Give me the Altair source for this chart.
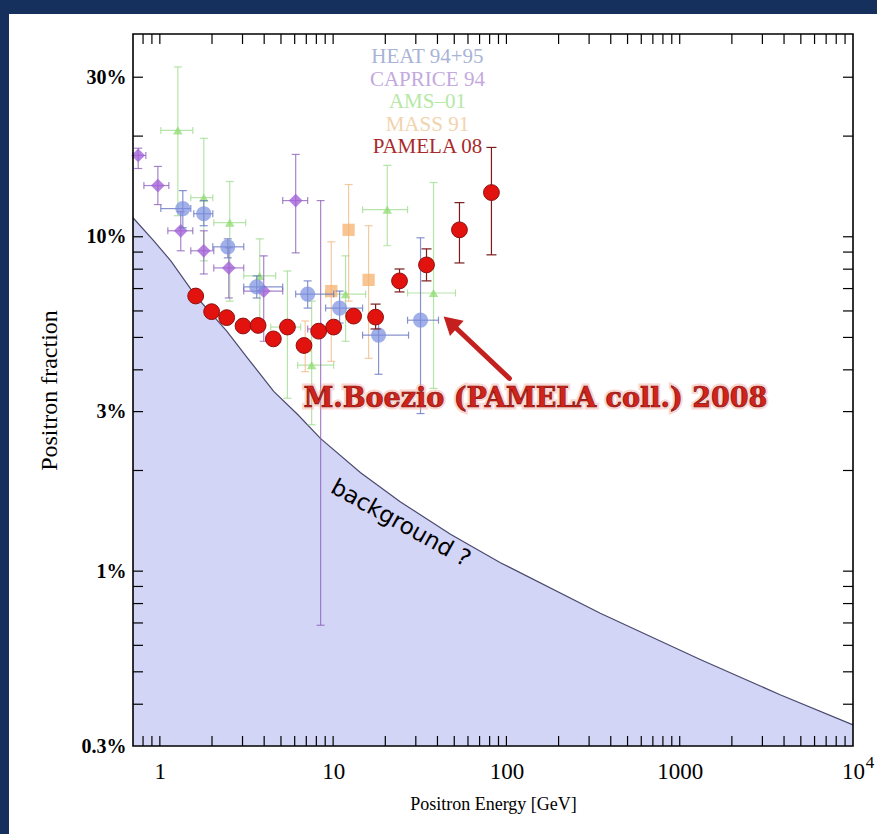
import altair as alt
import pandas as pd

# ---------------- data ----------------
# secondary-production "background" curve (energy GeV, positron fraction %)
bg_energy = [0.7, 0.923, 1.157, 1.612, 1.968, 2.433, 3.216, 4.54, 6.243, 8.472,
             14.41, 24.49, 47.56, 92.35, 348, 1313, 3796, 10000]
bg_frac = [11.40, 9.72, 8.47, 6.65, 5.91, 5.22, 4.33, 3.45, 2.94, 2.49,
           1.97, 1.61, 1.29, 1.06, 0.748, 0.544, 0.427, 0.347]

# PAMELA 08
pam_x = [1.61, 1.99, 2.43, 3.02, 3.69, 4.52, 5.45, 6.79, 8.25, 10.07, 13.13, 17.58, 24.16, 34.58, 53.58, 81.95]
pam_y = [6.65, 5.97, 5.73, 5.41, 5.43, 4.95, 5.37, 4.73, 5.22, 5.37, 5.79, 5.75, 7.38, 8.24, 10.49, 13.56]
pam_lo = [6.45, 5.80, 5.57, 5.27, 5.29, 4.82, 5.22, 4.60, 5.07, 5.20, 5.60, 5.30, 6.84, 7.38, 8.35, 8.83]
pam_hi = [6.85, 6.15, 5.90, 5.56, 5.58, 5.09, 5.52, 4.87, 5.38, 5.55, 6.00, 6.29, 8.01, 9.20, 12.65, 18.5]

# HEAT 94+95
heat_x = [1.357, 1.793, 2.466, 3.623, 7.129, 10.90, 18.29, 31.94]
heat_y = [12.14, 11.72, 9.33, 7.08, 6.74, 6.12, 5.08, 5.63]
heat_xlo = [1.013, 1.570, 2.021, 3.049, 6.080, 9.053, 14.79, 26.88]
heat_xhi = [1.509, 2.021, 3.049, 5.117, 10.07, 14.79, 27.24, 40.55]
heat_lo = [10.64, 10.79, 8.65, 6.56, 6.12, 5.52, 3.88, 2.96]
heat_hi = [13.74, 12.83, 9.86, 7.64, 7.38, 6.88, 5.60, 9.93]

# CAPRICE 94
cap_x = [0.75, 0.974, 1.32, 1.793, 2.499, 3.976, 6.080, 8.47]
cap_y = [17.51, 14.23, 10.42, 9.08, 8.07, 6.88, 12.83, 5.30]
cap_xlo = [0.70, 0.809, 1.112, 1.509, 2.048, 3.049, 5.117, 7.129]
cap_xhi = [0.83, 1.127, 1.549, 2.048, 3.049, 5.117, 7.129, 10.07]
cap_lo = [16.0, 12.48, 9.08, 7.74, 6.56, 4.87, 8.95, 0.689]
cap_hi = [18.4, 16.23, 11.89, 10.42, 9.27, 8.77, 17.63, 12.83]

# AMS-01
ams_x = [1.27, 1.793, 2.532, 3.771, 5.445, 7.516, 11.80, 20.53, 37.96]
ams_y = [20.8, 13.09, 11.02, 7.64, 5.37, 4.13, 6.74, 12.05, 6.79]
ams_xlo = [1.013, 1.509, 2.048, 3.049, 4.363, 6.243, 9.053, 14.79, 26.88]
ams_xhi = [1.549, 2.021, 3.131, 4.663, 6.496, 10.07, 15.39, 26.88, 50.82]
ams_lo = [11.56, 8.47, 6.42, 5.22, 3.29, 2.74, 4.87, 9.40, 3.52]
ams_hi = [32.2, 19.7, 14.63, 9.86, 7.90, 6.42, 8.77, 16.34, 14.53]

# MASS 91
mass_x = [6.9, 9.76, 12.28, 16.02]
mass_y = [4.71, 6.88, 10.49, 7.43]
mass_lo = [3.95, 4.24, 6.42, 4.33]
mass_hi = [5.60, 9.66, 14.33, 10.79]

# tick positions and labels
x_ticks = [0.8, 0.9, 1, 2, 3, 4, 5, 6, 7, 8, 9, 10, 20, 30, 40, 50, 60, 70, 80, 90,
           100, 200, 300, 400, 500, 600, 700, 800, 900, 1000, 2000, 3000, 4000, 5000,
           6000, 7000, 8000, 9000]
y_ticks = [0.4, 0.5, 0.6, 0.7, 0.8, 0.9, 1, 2, 3, 4, 5, 6, 7, 8, 9, 10, 20, 30]
x_labels = [1, 10, 100, 1000, 10000]
y_labels = [0.3, 1, 3, 10, 30]

legend_names = ["HEAT 94+95", "CAPRICE 94", "AMS\u201301", "MASS 91", "PAMELA 08"]
legend_colors = ["#a9b3d6", "#c3a9de", "#b6e8a6", "#f1d3ae", "#a92a2a"]
legend_x = [35.0, 35.0, 35.0, 35.0, 35.0]
legend_y = [34.4, 29.5, 25.3, 21.65, 18.55]

# ---------------- chart ----------------
W, H = 720, 712
SERIF = "Liberation Serif"

xs = alt.Scale(type="log", domain=[0.7, 10000], nice=False)
ys = alt.Scale(type="log", domain=[0.3, 40.4], nice=False)
xax = alt.Axis(values=x_labels, labelExpr="datum.value == 10000 ? '10' : '' + datum.value",
               domain=False, ticks=False, tickSize=0, grid=False, labelFlush=False,
               labelOverlap=False, labelFont=SERIF, labelFontSize=23, labelColor="black",
               labelPadding=14, title="Positron Energy [GeV]", titleFont=SERIF,
               titleFontSize=18, titleFontWeight="normal", titleColor="black", titlePadding=12,
               zindex=2)
yax = alt.Axis(values=y_labels, labelExpr="datum.value + '%'", domain=False, ticks=False,
               tickSize=0, grid=False, labelOverlap=False, labelFont=SERIF, labelFontSize=20,
               labelFontWeight="bold", labelColor="black", labelPadding=7,
               title="Positron fraction", titleFont=SERIF, titleFontSize=24,
               titleFontWeight="normal", titleColor="black", titlePadding=20, zindex=2)


def X(f):
    return alt.X(f, type="quantitative", scale=xs, axis=xax)


def Y(f):
    return alt.Y(f, type="quantitative", scale=ys, axis=yax)


one = pd.DataFrame({"k": [0]})
layers = []

# white panel (the slide background around it is dark blue)
layers.append(alt.Chart(one).mark_rect(color="white").encode(
    x=alt.value(-124), x2=alt.value(744), y=alt.value(-20), y2=alt.value(800)))

bg = pd.DataFrame({"e": bg_energy, "f": bg_frac})
layers.append(alt.Chart(bg).mark_area(color="#d3d5f7", opacity=1).encode(
    x=X("e"), y=Y("f"), y2=alt.datum(0.3)))
layers.append(alt.Chart(bg).mark_line(color="#4a4a6e", strokeWidth=1.2).encode(
    x=X("e"), y=Y("f")))


def series(xv, yv, lo, hi, xlo, xhi, bar_col, bar_op, pt, cap=8):
    d = {"x": xv, "y": yv, "lo": lo, "hi": hi}
    if xlo is not None:
        d["xlo"] = xlo
        d["xhi"] = xhi
    df = pd.DataFrame(d)
    out = []
    c = alt.Chart(df)
    out.append(c.mark_rule(color=bar_col, opacity=bar_op, strokeWidth=1.2).encode(
        x=X("x"), y=Y("lo"), y2="hi"))
    out.append(c.mark_tick(color=bar_col, opacity=bar_op, orient="horizontal", size=cap,
                           thickness=1.2).encode(x=X("x"), y=Y("lo")))
    out.append(c.mark_tick(color=bar_col, opacity=bar_op, orient="horizontal", size=cap,
                           thickness=1.2).encode(x=X("x"), y=Y("hi")))
    if xlo is not None:
        out.append(c.mark_rule(color=bar_col, opacity=bar_op, strokeWidth=1.2).encode(
            x=X("xlo"), x2="xhi", y=Y("y")))
        out.append(c.mark_tick(color=bar_col, opacity=bar_op, orient="vertical", size=7,
                               thickness=1.2).encode(x=X("xlo"), y=Y("y")))
        out.append(c.mark_tick(color=bar_col, opacity=bar_op, orient="vertical", size=7,
                               thickness=1.2).encode(x=X("xhi"), y=Y("y")))
    out.append(c.mark_point(**pt).encode(x=X("x"), y=Y("y")))
    return out


layers += series(ams_x, ams_y, ams_lo, ams_hi, ams_xlo, ams_xhi, "#9edb8c", 0.75,
                 dict(shape="triangle-up", filled=True, color="#8fdc72", opacity=0.75, size=90))
layers += series(mass_x, mass_y, mass_lo, mass_hi, None, None, "#f0bd8a", 0.8,
                 dict(shape="square", filled=True, color="#f5b06e", opacity=0.75, size=150))
layers += series(cap_x, cap_y, cap_lo, cap_hi, cap_xlo, cap_xhi, "#8a5cb8", 0.75,
                 dict(shape="diamond", filled=True, color="#a464d8", opacity=0.8, size=190))
layers += series(heat_x, heat_y, heat_lo, heat_hi, heat_xlo, heat_xhi, "#6a78c2", 0.8,
                 dict(shape="circle", filled=True, color="#7b8ee0", opacity=0.7, size=230))
layers += series(pam_x, pam_y, pam_lo, pam_hi, None, None, "#7a1c1c", 1.0,
                 dict(shape="circle", fill="#e2130f", stroke="#8e1010", strokeWidth=1,
                      opacity=1, size=250), cap=10)

# legend texts
leg = pd.DataFrame({"x": legend_x, "y": legend_y, "t": legend_names, "c": legend_colors})
layers.append(alt.Chart(leg).mark_text(font=SERIF, fontSize=21, baseline="middle",
                                       align="center").encode(
    x=X("x"), y=Y("y"), text="t:N", color=alt.Color("c:N", scale=None)))

# annotations
note = pd.DataFrame({"x": [146.9], "y": [3.28], "t": ["M.Boezio (PAMELA coll.) 2008"]})
layers.append(alt.Chart(note).mark_text(font="DejaVu Serif", fontWeight="bold", fontSize=27,
                                        stroke="#f6a89c", strokeWidth=5, opacity=0.45,
                                        color="#f6a89c", baseline="middle").encode(
    x=X("x"), y=Y("y"), text="t:N"))
layers.append(alt.Chart(note).mark_text(font="DejaVu Serif", fontWeight="bold", fontSize=27,
                                        color="#d2231b", stroke="#7e1410", strokeWidth=0.7,
                                        baseline="middle").encode(
    x=X("x"), y=Y("y"), text="t:N"))

arrow = pd.DataFrame({"x": [104.0], "y": [3.77], "x2": [47.4], "y2": [5.54]})
layers.append(alt.Chart(arrow).mark_rule(color="#c42020", strokeWidth=5, strokeCap="round").encode(
    x=X("x"), y=Y("y"), x2="x2", y2="y2"))
layers.append(alt.Chart(arrow).mark_point(shape="triangle-up", filled=True, color="#c42020",
                                          opacity=1, size=420, angle=312).encode(
    x=X("x2"), y=Y("y2")))

bgtext = pd.DataFrame({"x": [24.5], "y": [1.39], "t": ["background ?"]})
layers.append(alt.Chart(bgtext).mark_text(font="DejaVu Sans", fontSize=23, angle=29,
                                          color="black", baseline="middle").encode(
    x=X("x"), y=Y("y"), text="t:N"))

# superscript of the 10^4 tick label
sup = pd.DataFrame({"x": [10000], "y": [0.3], "t": ["4"]})
layers.append(alt.Chart(sup).mark_text(font=SERIF, fontSize=17, color="black", dx=17, dy=17,
                                       baseline="middle").encode(
    x=X("x"), y=Y("y"), text="t:N"))

# frame and inward ticks
layers.append(alt.Chart(one).mark_rect(fill=None, stroke="black", strokeWidth=1.6).encode(
    x=alt.value(0), x2=alt.value(W), y=alt.value(0), y2=alt.value(H)))
xt = alt.Chart(pd.DataFrame({"v": x_ticks}))
yt = alt.Chart(pd.DataFrame({"v": y_ticks}))
TL = 10
layers.append(xt.mark_rule(color="black", strokeWidth=1.2).encode(
    x=X("v"), y=alt.value(H), y2=alt.value(H - TL)))
layers.append(xt.mark_rule(color="black", strokeWidth=1.2).encode(
    x=X("v"), y=alt.value(0), y2=alt.value(TL)))
layers.append(yt.mark_rule(color="black", strokeWidth=1.2).encode(
    y=Y("v"), x=alt.value(0), x2=alt.value(TL)))
layers.append(yt.mark_rule(color="black", strokeWidth=1.2).encode(
    y=Y("v"), x=alt.value(W), x2=alt.value(W - TL)))

chart = alt.layer(*layers).properties(
    width=W, height=H,
    autosize=alt.AutoSizeParams(type="none"),
    padding={"left": 133, "top": 34, "right": 24, "bottom": 88},
    background="#15305c",
).configure_view(stroke=None)

chart.save("out.html", embed_options={"renderer": "svg", "actions": False})
